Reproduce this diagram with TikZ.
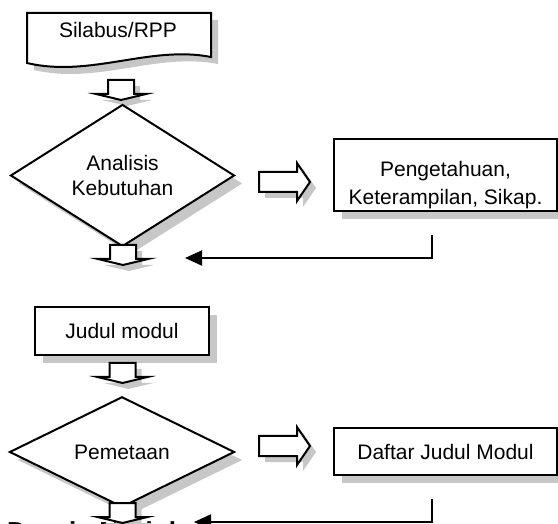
\documentclass[tikz,border=0pt]{standalone}
\usepackage{fontspec}
\setmainfont{Liberation Sans}
\usetikzlibrary{shapes.geometric,shadows,arrows.meta}

\begin{document}
\begin{tikzpicture}[x=0.5pt, y=-0.5pt, line width=1pt,
    font=\fontsize{10.5}{12.5}\selectfont,
    shade/.style={drop shadow={shadow xshift=4pt, shadow yshift=-4pt, fill=black!22, opacity=1}},
    box/.style={rectangle, draw, fill=white, shade, align=center, inner sep=0pt},
    decision/.style={diamond, draw, fill=white, shade, align=center, inner sep=0pt},
    link/.style={draw, -{Triangle[length=8.5pt, width=7.5pt]}},
    downarrow/.pic={
        \fill [black!22] (-7,6) -- (19,6) -- (19,20) -- (31,20) -- (6,26) -- (-19,20) -- (-7,20) -- cycle;
        \draw [fill=white] (-13,0) -- (13,0) -- (13,14) -- (25,14) -- (0,20) -- (-25,14) -- (-13,14) -- cycle;
    },
    rightarrow/.pic={
        \fill [black!22] (6,-4) -- (44,-4) -- (44,-13) -- (57,6) -- (44,25) -- (44,16) -- (6,16) -- cycle;
        \draw [fill=white] (0,-10) -- (38,-10) -- (38,-19) -- (51,0) -- (38,19) -- (38,10) -- (0,10) -- cycle;
    }]
    \useasboundingbox (0,0) rectangle (558,524);

    % Silabus / RPP (document shape)
    \fill [black!22, shift={(7,7)}] (27,13) -- (211,13) -- (211,57) .. controls (150,45) and (90,78) .. (27,63) -- cycle;
    \draw [fill=white] (27,13) -- (211,13) -- (211,57) .. controls (150,45) and (90,78) .. (27,63) -- cycle;
    \node [anchor=base, inner sep=0pt] (silabus) at (118,38) {Silabus/RPP};
    \pic (a1) at (121,80) {downarrow};

    % Analisis kebutuhan
    \node [decision, minimum width=112pt, minimum height=60.5pt] (analisis) at (122.5,175.5) {Analisis\\Kebutuhan};
    \pic (r1) at (259,182) {rightarrow};
    \node [box, minimum width=111.5pt, minimum height=36pt] (pengetahuan) at (445.5,175) {};
    \node [align=center, inner sep=0pt, font=\fontsize{10.5}{14}\selectfont] (pengetahuan text) at ([yshift=-5pt]pengetahuan.center) {Pengetahuan,\\Keterampilan, Sikap.};
    \coordinate (p1) at (432,235);
    \coordinate (p2) at (185,258);
    \draw [link] (p1) |- (p2);
    \pic (a2) at (123,245) {downarrow};

    % Judul modul
    \node [box, minimum width=87pt, minimum height=24pt] (judul) at (122,331) {Judul modul};
    \pic (a3) at (122.5,363) {downarrow};

    % Pemetaan
    \node [decision, minimum width=112.5pt, minimum height=48.5pt] (pemetaan) at (122,452) {Pemetaan};
    \pic (r2) at (259,446) {rightarrow};
    \node [box, minimum width=111.5pt, minimum height=23.5pt] (daftar) at (445.5,451.5) {Daftar Judul Modul};
    \coordinate (q1) at (432,499);
    \coordinate (q2) at (194,522);
    \draw [link] (q1) |- (q2);

    % Desain modul
    \node [anchor=base west, inner sep=0pt, font=\bfseries\fontsize{13}{15}\selectfont] (desain) at (6,540) {Desain Modul};
    \pic (a4) at (122.5,503) {downarrow};
\end{tikzpicture}
\end{document}
